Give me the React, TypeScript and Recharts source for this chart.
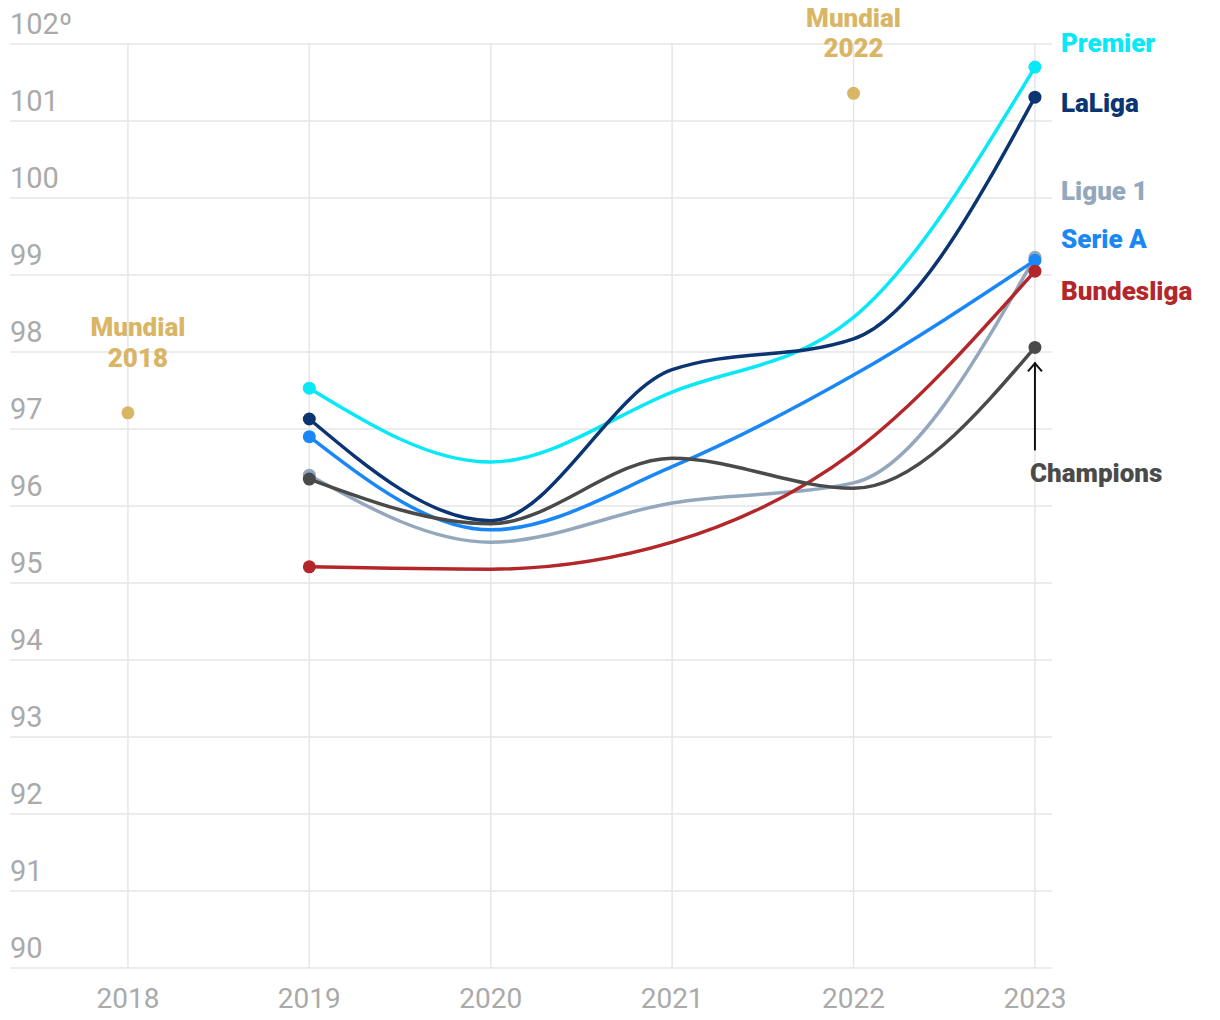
import { LineChart, Line, XAxis, YAxis, CartesianGrid, ReferenceLine } from "recharts";

const YEARS = [2018, 2019, 2020, 2021, 2022, 2023];
const Y_TICKS = [90, 91, 92, 93, 94, 95, 96, 97, 98, 99, 100, 101, 102];

const premier = [null, 97.53, 96.57, 97.48, 98.45, 101.7];
const laliga = [null, 97.13, 95.81, 97.77, 98.17, 101.31];
const serieA = [null, 96.9, 95.69, 96.51, 97.7, 99.19];
const ligue1 = [null, 96.4, 95.53, 96.04, 96.3, 99.23];
const bundesliga = [null, 95.21, 95.18, 95.53, 96.7, 99.05];
const champions = [null, 96.35, 95.77, 96.62, 96.23, 98.06];
const mundial = [97.21, null, null, null, 101.36, null];

const FONT = "Roboto, 'Open Sans', sans-serif";
const GOLD = "#d9b666";
const GRID = "#e6e6e6";

const SERIES = [
  { key: "ligue1", name: "Ligue 1", values: ligue1, color: "#94a8bd", labelDy: -66 },
  { key: "serieA", name: "Serie A", values: serieA, color: "#1a87f6", labelDy: -21 },
  { key: "bundesliga", name: "Bundesliga", values: bundesliga, color: "#b3272b", labelDy: 20 },
  { key: "premier", name: "Premier", values: premier, color: "#08e8f6", labelDy: -24 },
  { key: "laliga", name: "LaLiga", values: laliga, color: "#0b3572", labelDy: 6 },
  { key: "champions", name: "Champions", values: champions, color: "#4a4a4a", labelDy: 0 },
];

const rows = YEARS.map((year, i) => {
  const row: Record<string, number | null> = { year, mundial: mundial[i] };
  for (const s of SERIES) row[s.key] = s.values[i];
  return row;
});

function YTick({ y, payload }: any) {
  return (
    <text x={10} y={y - 10} fill="#aaaaaa" fontSize={29} fontFamily={FONT}>
      {payload.value === 102 ? "102º" : payload.value}
    </text>
  );
}

function XTick({ x, y, payload }: any) {
  return (
    <text x={x} y={y + 32} fill="#aaaaaa" fontSize={28} fontFamily={FONT} textAnchor="middle">
      {payload.value}
    </text>
  );
}

function makeDot(s: (typeof SERIES)[number]) {
  return (props: any) => {
    const { cx, cy, index, value } = props;
    if (value == null || cx == null || (index !== 1 && index !== YEARS.length - 1)) return <g key={index} />;
    const last = index === YEARS.length - 1;
    return (
      <g key={index}>
        <circle cx={cx} cy={cy} r={6.5} fill={s.color} />
        {last && s.key !== "champions" && (
          <text x={cx + 26} y={cy + s.labelDy} dominantBaseline="central" fill={s.color}
            fontSize={26} fontWeight={900} fontFamily={FONT}>{s.name}</text>
        )}
        {last && s.key === "champions" && (
          <g>
            <line x1={cx} y1={cy + 15} x2={cx} y2={cy + 103} stroke="#111" strokeWidth={2} />
            <polyline points={`${cx - 7},${cy + 24} ${cx},${cy + 16} ${cx + 7},${cy + 24}`} fill="none" stroke="#111" strokeWidth={2} />
            <text x={cx - 5} y={cy + 126} dominantBaseline="central" fill={s.color}
              fontSize={26} fontWeight={900} fontFamily={FONT}>{s.name}</text>
          </g>
        )}
      </g>
    );
  };
}

const MUNDIAL_LABELS: Record<number, { dx: number; dy1: number; dy2: number }> = {
  0: { dx: 10, dy1: -86, dy2: -55 },
  4: { dx: 0, dy1: -75, dy2: -45 },
};

function MundialDot(props: any) {
  const { cx, cy, index, value, payload } = props;
  if (value == null || cx == null) return <g key={index} />;
  const l = MUNDIAL_LABELS[index];
  return (
    <g key={index}>
      <circle cx={cx} cy={cy} r={6.5} fill={GOLD} />
      <text x={cx + l.dx} y={cy + l.dy1} textAnchor="middle" dominantBaseline="central" fill={GOLD}
        fontSize={26} fontWeight={900} fontFamily={FONT}>Mundial</text>
      <text x={cx + l.dx} y={cy + l.dy2} textAnchor="middle" dominantBaseline="central" fill={GOLD}
        fontSize={26} fontWeight={900} fontFamily={FONT}>{payload.year}</text>
    </g>
  );
}

export default function App() {
  return (
    <div style={{ margin: -8 }}>
      <LineChart width={1220} height={1020} data={rows} margin={{ top: 44, right: 168, left: 8, bottom: 8 }}>
        <CartesianGrid stroke={GRID} strokeWidth={1.5} vertical={false} />
        {YEARS.map((y) => (
          <ReferenceLine key={y} x={y} stroke={GRID} strokeWidth={1.5} />
        ))}
        <XAxis dataKey="year" type="number" domain={[2017.35, 2023.094]} ticks={YEARS}
          axisLine={false} tickLine={false} height={44} tick={<XTick />} interval={0} />
        <YAxis type="number" domain={[90, 102]} ticks={Y_TICKS} width={2} axisLine={false} tickLine={false}
          tick={<YTick />} interval={0} />
        <Line dataKey="mundial" stroke="none" dot={MundialDot} activeDot={false} isAnimationActive={false} />
        {SERIES.map((s) => (
          <Line key={s.key} dataKey={s.key} type="monotone" stroke={s.color} strokeWidth={3.5}
            dot={makeDot(s)} activeDot={false} isAnimationActive={false} />
        ))}
      </LineChart>
    </div>
  );
}
